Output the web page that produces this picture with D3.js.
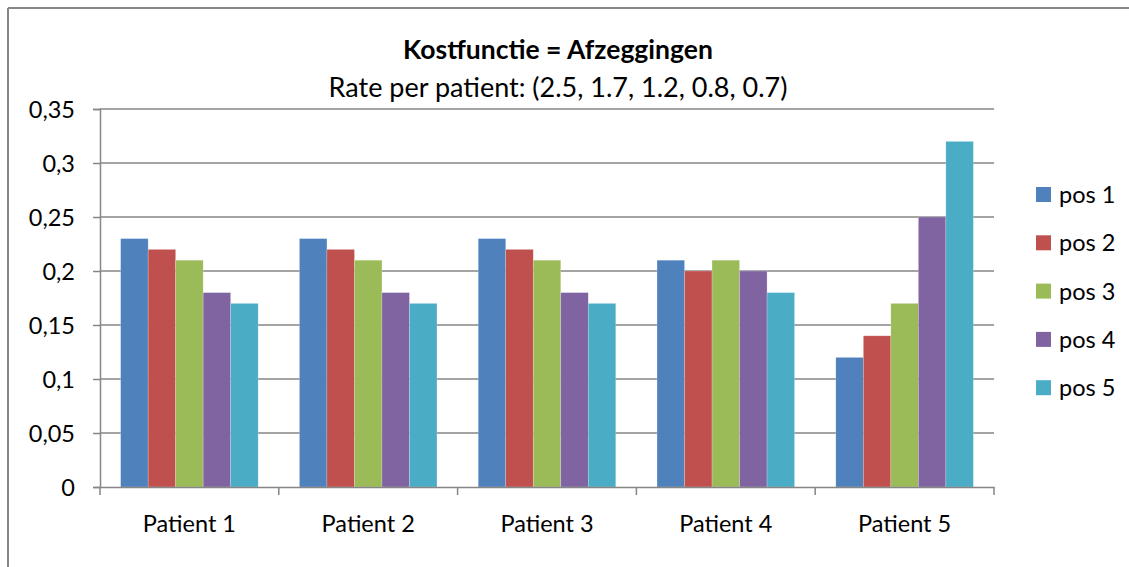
<!DOCTYPE html>
<html>
<head>
<meta charset="utf-8">
<script src="https://cdn.jsdelivr.net/npm/d3@7"></script>
<style>
body{margin:0;background:#fff;overflow:hidden;}
svg{display:block;}
text{font-family:Lato,"Open Sans",sans-serif;fill:#000;}
</style>
</head>
<body>
<svg id="chart"></svg>
<script>
// chart data
var categories=["Patient 1","Patient 2","Patient 3","Patient 4","Patient 5"];
var seriesNames=["pos 1","pos 2","pos 3","pos 4","pos 5"];
var pos1=[0.23,0.23,0.23,0.21,0.12];
var pos2=[0.22,0.22,0.22,0.20,0.14];
var pos3=[0.21,0.21,0.21,0.21,0.17];
var pos4=[0.18,0.18,0.18,0.20,0.25];
var pos5=[0.17,0.17,0.17,0.18,0.32];
var yTicks=[0,0.05,0.1,0.15,0.2,0.25,0.3,0.35];
var colors=["#4F81BD","#C0504D","#9BBB59","#8064A2","#4BACC6"];

var allSeries=[pos1,pos2,pos3,pos4,pos5];
var W=1129,H=567;
var plotLeft=100,plotRight=994,plotTop=109,plotBottom=487;

var svg=d3.select('#chart').attr('width',W).attr('height',H);

// frame: only top and left edges are inside the picture
svg.append('line').attr('x1',8).attr('x2',W).attr('y1',8).attr('y2',8)
    .attr('stroke','#868686').attr('stroke-width',2);
svg.append('line').attr('x1',8).attr('x2',8).attr('y1',8).attr('y2',H)
    .attr('stroke','#868686').attr('stroke-width',2);

var x0=d3.scaleBand().domain(categories).range([plotLeft,plotRight]).padding(0);
// excel gap width 150%
var gap=x0.bandwidth()*0.75/6.5;
var x1=d3.scaleBand().domain(seriesNames).range([gap,x0.bandwidth()-gap]).padding(0);
var y=d3.scaleLinear().domain([0,0.35]).range([plotBottom,plotTop]);

// gridlines
svg.append('g').selectAll('line').data(yTicks.slice(1)).enter().append('line')
    .attr('x1',plotLeft).attr('x2',plotRight)
    .attr('y1',function(d){return y(d);}).attr('y2',function(d){return y(d);})
    .attr('stroke','#868686').attr('stroke-width',1.3);

// bars
var groups=svg.append('g').selectAll('g').data(categories).enter().append('g')
    .attr('transform',function(d){return 'translate('+x0(d)+',0)';});
groups.selectAll('rect').data(function(d,i){
        return allSeries.map(function(s,j){return {name:seriesNames[j],v:s[i],c:colors[j]};});
    }).enter().append('rect')
    .attr('x',function(d){return x1(d.name);})
    .attr('width',x1.bandwidth())
    .attr('y',function(d){return y(d.v);})
    .attr('height',function(d){return plotBottom-y(d.v);})
    .attr('fill',function(d){return d.c;})
    .attr('stroke','#fff').attr('stroke-opacity',0.35).attr('stroke-width',0.6);

// y axis
var fmt=function(d){return String(d).replace('.',',');};
var yAxis=svg.append('g').attr('transform','translate('+plotLeft+',0)')
    .call(d3.axisLeft(y).tickValues(yTicks).tickFormat(fmt).tickSize(7).tickPadding(18));
yAxis.select('.domain').attr('stroke','#868686').attr('stroke-width',1.5);
yAxis.selectAll('.tick line').attr('stroke','#868686').attr('stroke-width',1.5);
yAxis.selectAll('.tick text').attr('font-size',23.5).attr('font-family','Lato').attr('fill','#000').attr('dy','0.36em');

// x axis
var xAxis=svg.append('g').attr('transform','translate(0,'+plotBottom+')')
    .call(d3.axisBottom(x0).tickSize(0).tickPadding(28));
xAxis.select('.domain').attr('stroke','#868686').attr('stroke-width',1.5);
xAxis.selectAll('.tick text').attr('font-size',23.5).attr('font-family','Lato').attr('fill','#000');
var bounds=[plotLeft].concat(categories.map(function(c){return x0(c)+x0.bandwidth();}));
xAxis.selectAll('.sep').data(bounds).enter().append('line').attr('class','sep')
    .attr('x1',function(d){return d;}).attr('x2',function(d){return d;})
    .attr('y1',0).attr('y2',8).attr('stroke','#868686').attr('stroke-width',1.5);

// titles
svg.append('text').attr('x',558).attr('y',59).attr('text-anchor','middle')
    .attr('font-size',26.5).attr('font-weight','bold').text('Kostfunctie = Afzeggingen');
svg.append('text').attr('x',558).attr('y',97).attr('text-anchor','middle')
    .attr('font-size',27).text('Rate per patient: (2.5, 1.7, 1.2, 0.8, 0.7)');

// legend
var leg=svg.append('g').selectAll('g').data(seriesNames).enter().append('g')
    .attr('transform',function(d,i){return 'translate(1036,'+(187+i*48.3)+')';});
leg.append('rect').attr('width',15).attr('height',15).attr('fill',function(d,i){return colors[i];});
leg.append('text').attr('x',23).attr('y',7.5).attr('dy','0.36em').attr('font-size',23.5).text(function(d){return d;});
</script>
</body>
</html>
